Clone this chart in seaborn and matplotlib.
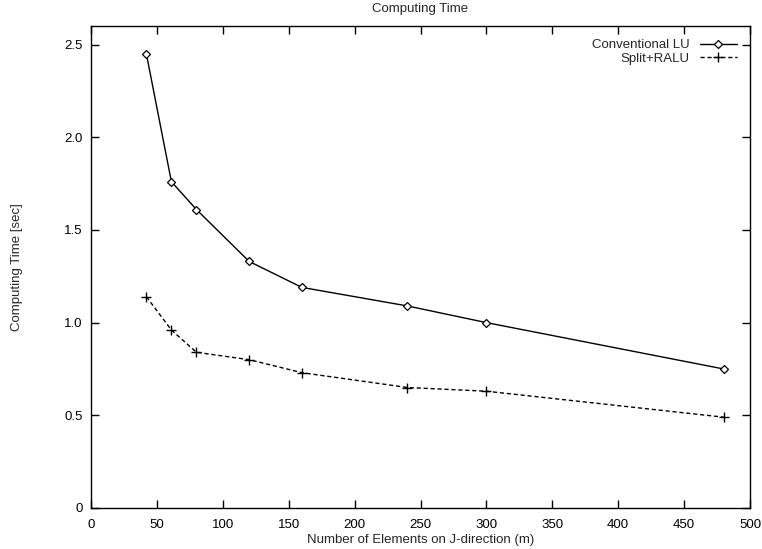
import matplotlib
matplotlib.use("Agg")
import matplotlib.pyplot as plt
import seaborn as sns
import pandas as pd

# valores
elementos = [42, 61, 80, 120, 160, 240, 300, 480]
lu_convencional = [2.45, 1.76, 1.61, 1.33, 1.19, 1.09, 1.00, 0.75]
split_ralu = [1.14, 0.96, 0.84, 0.80, 0.73, 0.65, 0.63, 0.49]
etiquetas = ["Conventional LU", "Split+RALU"]

sns.set_style("ticks")
plt.rcParams["font.family"] = ["Liberation Sans", "DejaVu Sans"]
plt.rcParams["font.size"] = 9

fig = plt.figure(figsize=(7.62, 5.49), dpi=100)
ax = fig.add_axes([91 / 762, 1 - 508 / 549, (750 - 91) / 762, (508 - 26) / 549])

df_lu = pd.DataFrame({"m": elementos, "t": lu_convencional})
df_sr = pd.DataFrame({"m": elementos, "t": split_ralu})

sns.lineplot(data=df_lu, x="m", y="t", ax=ax, color="black", linewidth=1.0,
             marker="D", markersize=4.5, markerfacecolor="white",
             markeredgecolor="black", markeredgewidth=0.9, label=etiquetas[0])
sns.lineplot(data=df_sr, x="m", y="t", ax=ax, color="black", linewidth=1.0,
             linestyle=(0, (3, 2)), marker="+", markersize=7,
             markeredgecolor="black", markeredgewidth=1.0, label=etiquetas[1])

ax.set_xlim(0, 500)
ax.set_ylim(0, 2.6)
ax.set_xticks(range(0, 501, 50))
ax.set_yticks([0, 0.5, 1.0, 1.5, 2.0, 2.5])
ax.set_yticklabels(["0", "0.5", "1.0", "1.5", "2.0", "2.5"])
ax.tick_params(direction="in", top=True, right=True, length=6, width=1,
               labelsize=9.5, colors="black")
ax.tick_params(axis="x", pad=8)
ax.tick_params(axis="y", pad=6)
for s in ax.spines.values():
    s.set_linewidth(1.0)
    s.set_color("black")

ax.set_title("Computing Time", fontsize=9.5, pad=10)
ax.set_xlabel("Number of Elements on J-direction (m)", fontsize=9.5, labelpad=2)
ax.set_ylabel("Computing Time [sec]", fontsize=9.5, labelpad=30)

ax.legend(loc="upper right", frameon=False, markerfirst=False, fontsize=9.5,
          handlelength=2.8, borderaxespad=0.6, labelspacing=0.1)

fig.savefig("out.png", dpi=100)
